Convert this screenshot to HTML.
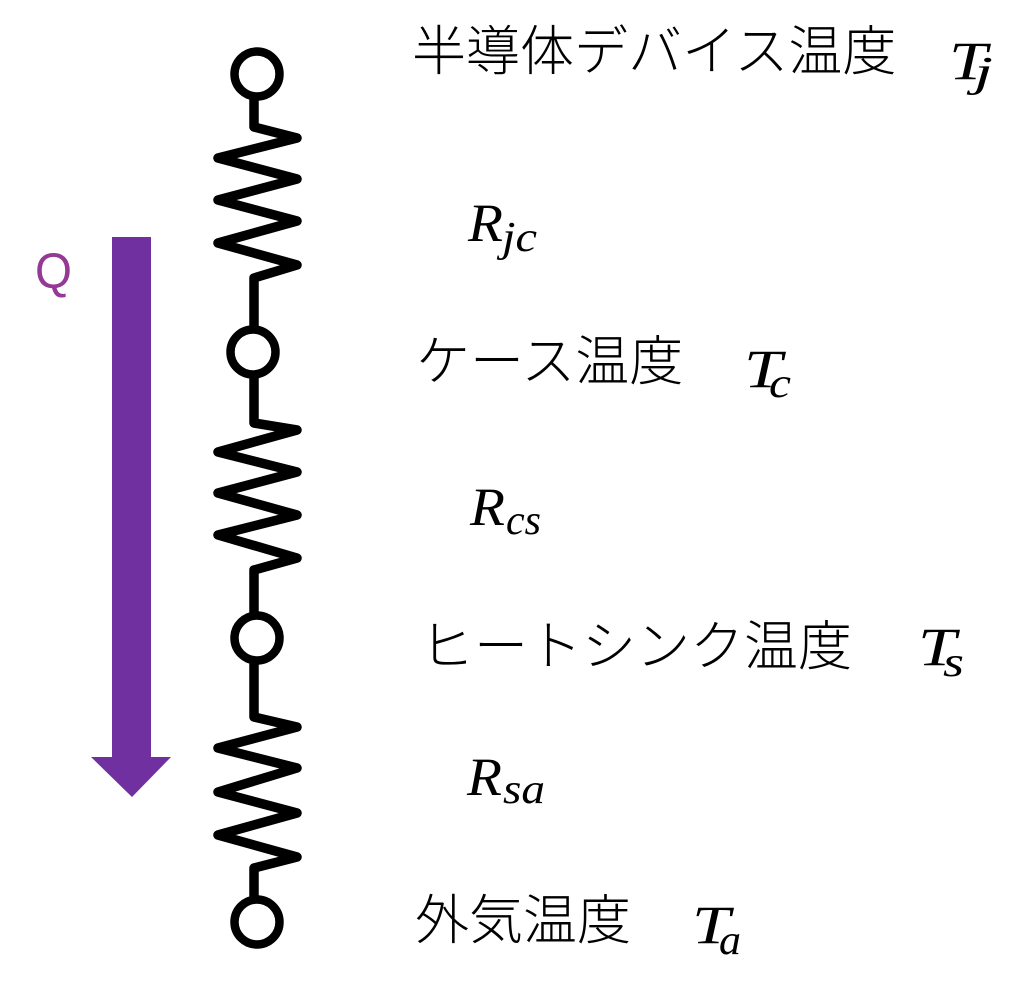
<!DOCTYPE html>
<html>
<head>
<meta charset="utf-8">
<style>
  html, body { margin:0; padding:0; background:#fff; }
  body { width:1024px; height:986px; overflow:hidden; }
  svg { display:block; }
  .jp { font-family: "Liberation Sans", "Noto Sans CJK JP", sans-serif; font-size:54px; font-weight:300; fill:#000; }
  .m { font-family: "Liberation Serif", serif; font-style:italic; font-weight:normal; fill:#000; }
</style>
</head>
<body>
<svg width="1024" height="986" viewBox="0 0 1024 986" xmlns="http://www.w3.org/2000/svg">
  <rect x="0" y="0" width="1024" height="986" fill="#fff"/>

  <!-- Heat flow arrow -->
  <polygon points="112,237 151,237 151,757 171,757 132,797 91,757 112,757" fill="#7030A0"/>
  <text x="35" y="288" font-family="Liberation Sans, sans-serif" font-size="50" fill="#953896" textLength="37" lengthAdjust="spacingAndGlyphs">Q</text>

  <!-- Circuit -->
  <g fill="none" stroke="#000" stroke-width="9.5" stroke-linejoin="round" stroke-linecap="butt">
    <path d="M254,96 L254,127 L297,138 L218,158 L297,179 L218,200 L297,221 L218,243 L297,265 L254,278 L254,330"/>
    <path d="M254,374 L254,423 L297,430 L218,452 L297,472 L218,493 L297,515 L218,535 L297,558 L254,570 L254,616"/>
    <path d="M254,660 L254,717 L297,727 L218,748 L297,768 L218,792 L297,813 L218,835 L297,857 L254,868 L254,900"/>
  </g>
  <g fill="#fff" stroke="#000" stroke-width="8.5">
    <circle cx="257" cy="74" r="22.5"/>
    <circle cx="253" cy="352" r="22.5"/>
    <circle cx="257" cy="638" r="22.5"/>
    <circle cx="257" cy="922" r="22.5"/>
  </g>

  <!-- Labels -->
  <text class="jp" x="412" y="70">半導体デバイス温度</text>
  <text class="m" x="949" y="79" font-size="54" textLength="38" lengthAdjust="spacingAndGlyphs">T</text>
  <text class="m" x="974" y="86" font-size="42" textLength="19" lengthAdjust="spacingAndGlyphs">j</text>

  <text class="m" x="468" y="241" font-size="54" textLength="35" lengthAdjust="spacingAndGlyphs">R</text>
  <text class="m" x="502" y="251" font-size="42" textLength="35" lengthAdjust="spacingAndGlyphs">jc</text>

  <text class="jp" x="416" y="380">ケース温度</text>
  <text class="m" x="744" y="387" font-size="54" textLength="38" lengthAdjust="spacingAndGlyphs">T</text>
  <text class="m" x="769" y="397" font-size="42" textLength="22" lengthAdjust="spacingAndGlyphs">c</text>

  <text class="m" x="470" y="525" font-size="54" textLength="35" lengthAdjust="spacingAndGlyphs">R</text>
  <text class="m" x="506" y="534" font-size="42" textLength="35" lengthAdjust="spacingAndGlyphs">cs</text>

  <text class="jp" x="420" y="665">ヒートシンク温度</text>
  <text class="m" x="918" y="665" font-size="54" textLength="38" lengthAdjust="spacingAndGlyphs">T</text>
  <text class="m" x="943" y="676" font-size="42" textLength="21" lengthAdjust="spacingAndGlyphs">s</text>

  <text class="m" x="467" y="795" font-size="54" textLength="35" lengthAdjust="spacingAndGlyphs">R</text>
  <text class="m" x="503" y="803" font-size="42" textLength="42" lengthAdjust="spacingAndGlyphs">sa</text>

  <text class="jp" x="415" y="939">外気温度</text>
  <text class="m" x="692" y="943" font-size="54" textLength="38" lengthAdjust="spacingAndGlyphs">T</text>
  <text class="m" x="719" y="954" font-size="42" textLength="22" lengthAdjust="spacingAndGlyphs">a</text>
</svg>
</body>
</html>
